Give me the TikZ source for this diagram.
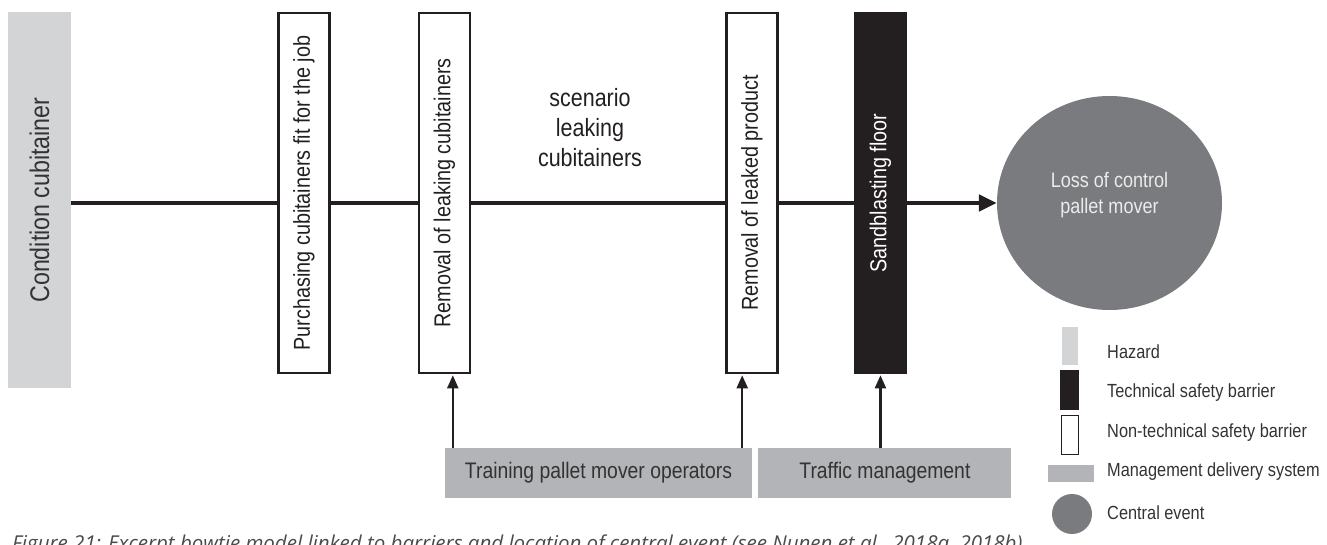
\documentclass[tikz,border=0pt]{standalone}
\usepackage{fontspec}
\setmainfont{Liberation Sans}[FakeStretch=0.86]
\setsansfont{Liberation Sans}[FakeStretch=0.86]
\newfontfamily\capfont{Open Sans}
\usetikzlibrary{arrows.meta, positioning, shapes.geometric}

\definecolor{inkdark}{HTML}{231F20}
\definecolor{textdark}{HTML}{333333}
\definecolor{hazardgray}{HTML}{D3D4D6}
\definecolor{mdsgray}{HTML}{B3B4B7}
\definecolor{eventgray}{HTML}{7A7B7E}
\definecolor{eventtext}{HTML}{EBEBEB}
\definecolor{capgray}{HTML}{4A4A4A}

\tikzset{
  hazard/.style={fill=hazardgray, text=textdark, minimum width=63pt,
    minimum height=376pt, inner sep=0pt, font=\fontsize{27}{30}\selectfont},
  barrier/.style={draw=inkdark, line width=2.5pt, fill=white, text=inkdark,
    minimum width=51pt, minimum height=360pt, inner sep=0pt,
    font=\fontsize{23}{27}\selectfont},
  techbarrier/.style={barrier, fill=inkdark, text=white},
  mds/.style={fill=mdsgray, text=textdark, minimum height=50pt, inner sep=0pt,
    font=\fontsize{22.5}{26}\selectfont},
  spine/.style={draw=inkdark, line width=4.5pt},
  feed/.style={draw=inkdark, line width=2.2pt, shorten >=1pt,
    -{Triangle[length=13pt,width=11pt]}},
  legtext/.style={anchor=west, inner sep=0pt, text=textdark,
    font=\fontsize{19}{22}\selectfont}
}

\begin{document}
\begin{tikzpicture}[x=1pt, y=-1pt]
    \useasboundingbox (0,0) rectangle (1327,545);
    % Hazard and barriers
        \node[hazard] (haz) at (39.5,200) {\rotatebox{90}{Condition cubitainer}};
        \node[barrier,
              right=206pt of haz.north east,
              anchor=north west] (pur) {\rotatebox{90}{Purchasing cubitainers fit for the job}};
        \node[barrier,
              right=87pt of pur.north east,
              anchor=north west] (rem1) {\rotatebox{90}{Removal of leaking cubitainers}};
        \node[barrier,
              right=254pt of rem1.north east,
              anchor=north west] (rem2) {\rotatebox{90}{Removal of leaked product}};
        \node[techbarrier,
              right=75pt of rem2.north east,
              anchor=north west] (sand) {\rotatebox{90}{Sandblasting floor}};
        \node[ellipse, fill=eventgray, minimum width=225pt, minimum height=214pt,
              label={[text=eventtext, align=center, yshift=8pt,
                      font=\fontsize{21}{26}\selectfont]center:Loss of control\\pallet mover}]
              (ev) at (1109.5,203) {};

        \node[align=center, text=inkdark, font=\fontsize{25}{30}\selectfont]
              (scen) at (590,128) {scenario\\leaking\\cubitainers};

    % Management delivery systems
        \node[mds, minimum width=307pt] (train) at (598.5,473) {Training pallet mover operators};
        \node[mds, minimum width=253pt,
              right=6pt of train] (traffic) {Traffic management};

    % Main line
        \draw[spine] (haz.east |- ev.west) -- (pur.west |- ev.west);
        \draw[spine] (pur.east |- ev.west) -- (rem1.west |- ev.west);
        \draw[spine] (rem1.east |- ev.west) -- (rem2.west |- ev.west);
        \draw[spine] (rem2.east |- ev.west) -- (sand.west |- ev.west);
        \draw[spine, -{Triangle[length=18pt,width=16pt]}]
            (sand.east |- ev.west) -- (ev.west);

    % Feeds from management
        \coordinate (f1) at ([xshift=8pt]train.north west);
        \coordinate (f2) at ([xshift=-10pt]train.north east);
        \draw[feed] (f1) -- (f1 |- rem1.south);
        \draw[feed] (f2) -- (f2 |- rem2.south);
        \draw[feed] (sand.south |- traffic.north) -- (sand.south);

    % Legend
        \node[fill=hazardgray, minimum width=16pt, minimum height=38pt, inner sep=0pt] (lhaz) at (1070,346) {};
        \node[fill=inkdark, minimum width=19pt, minimum height=40pt, inner sep=0pt] (ltech) at (1069.5,390) {};
        \node[draw=inkdark, line width=1.5pt, fill=white, minimum width=17pt,
              minimum height=39pt, inner sep=0pt] (lnon) at (1070,435) {};
        \node[fill=mdsgray, minimum width=46pt, minimum height=17pt, inner sep=0pt] (lmds) at (1071,473.5) {};
        \node[circle, fill=eventgray, minimum size=40pt, inner sep=0pt] (lev) at (1072,514) {};

        \node[legtext] (lhazt) at (1107,352) {Hazard};
        \node[legtext] (ltecht) at (1107,393) {Technical safety barrier};
        \node[legtext] (lnont) at (1107,433) {Non-technical safety barrier};
        \node[legtext] (lmdst) at (1107,472) {Management delivery system};
        \node[legtext] (levt) at (1107,513) {Central event};

    % Caption (cut off by the page)
        \node[anchor=base west, inner sep=0pt, text=capgray,
              font=\capfont\itshape\fontsize{20.5}{24}\selectfont]
              (cap) at (12,550) {Figure 21: Excerpt bowtie model linked to barriers and location of central event (see Nunen et al., 2018a, 2018b)};
\end{tikzpicture}
\end{document}
